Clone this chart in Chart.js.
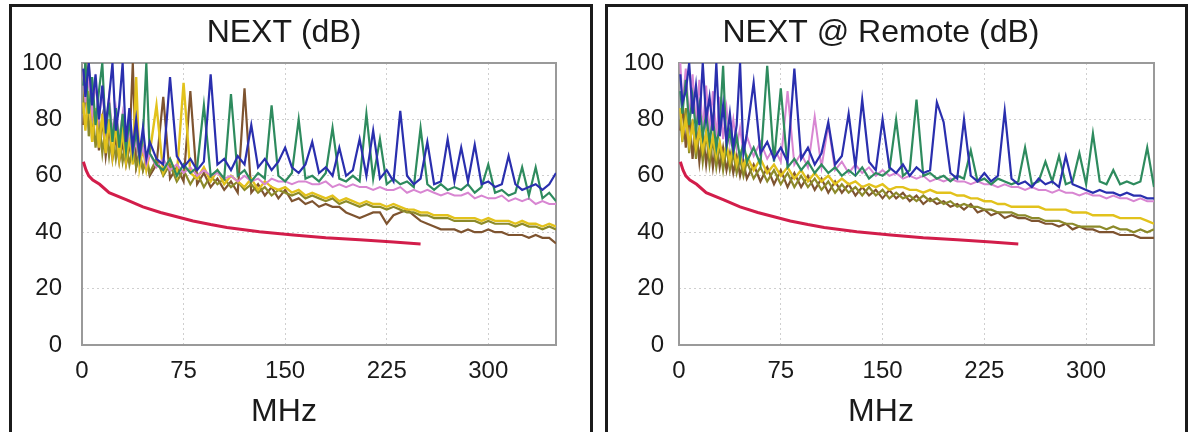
<!DOCTYPE html>
<html>
<head>
<meta charset="utf-8">
<script src="https://cdn.jsdelivr.net/npm/chart.js@4.4.1/dist/chart.umd.min.js"></script>
<style>
  html, body { margin: 0; padding: 0; background: #fff; }
  body { width: 1193px; height: 432px; overflow: hidden; position: relative; }
  .panel { position: absolute; top: 4px; height: 440px; border: 3px solid #1b1b1b; }
  .panel canvas { position: absolute; left: 0; top: 0; }
  #left-panel { left: 9px; width: 578px; }
  #right-panel { left: 605px; width: 577px; }
</style>
</head>
<body>
<div class="panel" id="left-panel"><canvas id="nextChart" width="578" height="425"></canvas></div>
<div class="panel" id="right-panel"><canvas id="remoteChart" width="577" height="425"></canvas></div>
<script>
// frequency points (MHz) shared by the pair traces
const freqs = [1, 2.5, 5, 7.5, 10, 12.5, 15, 17.5, 20, 22.5, 25, 27.5, 30, 32.5, 35, 37.5, 40, 42.5, 45, 47.5, 50,
  55, 60, 65, 70, 75, 80, 85, 90, 95, 100, 105, 110, 115, 120, 125, 130, 135, 140, 145, 150,
  155, 160, 165, 170, 175, 180, 185, 190, 195, 200, 205, 210, 215, 220, 225, 230, 235, 240, 245, 250,
  255, 260, 265, 270, 275, 280, 285, 290, 295, 300, 305, 310, 315, 320, 325, 330, 335, 340, 345, 350];

const xTickValues = [0, 75, 150, 225, 300];
const yTickValues = [0, 20, 40, 60, 80, 100];

// limit line (same on both sides)
const limitFreqs = [1, 3, 5, 8, 13, 20, 33, 45, 58, 70, 82, 95, 107, 131, 156, 180, 205, 230, 250];
const limitDb = [65, 62, 60, 58.5, 57, 54, 51.5, 49, 47, 45.5, 44, 42.7, 41.7, 40.2, 39, 38, 37.3, 36.5, 35.8];

// NEXT (dB)
const nextBlue = [98, 88, 100, 85, 96, 80, 92, 78, 88, 100, 76, 85, 100, 72, 84, 70, 80, 68, 77, 66, 72,
  66, 64, 95, 67, 63, 66, 62, 65, 96, 64,
  66, 62, 67, 64, 78, 63, 66, 62, 65, 70,
  63, 61, 64, 72, 61, 63, 60, 70, 60, 62,
  73, 60, 76, 59, 62, 58, 83, 60, 57, 59,
  72, 57, 58, 73, 58, 70, 58, 71, 57, 58,
  56, 57, 67, 57, 55, 56, 57, 55, 57, 61];
const nextGreen = [92, 100, 82, 95, 78, 90, 100, 75, 86, 72, 84, 70, 82, 69, 80, 68, 76, 66, 74, 100, 68,
  64, 62, 66, 60, 64, 61, 63, 85, 60, 62,
  59, 89, 60, 62, 58, 61, 59, 85, 60, 58,
  61, 80, 59, 60, 58, 61, 77, 59, 58, 60,
  58, 82, 59, 73, 57, 59, 57, 58, 56, 77,
  57, 55, 57, 55, 56, 55, 57, 54, 56, 64,
  54, 55, 53, 54, 63, 53, 63, 52, 54, 51];
const nextPink = [97, 86, 95, 82, 93, 80, 90, 77, 88, 75, 84, 73, 82, 70, 76, 68, 72, 66, 70, 64, 68,
  63, 66, 62, 64, 61, 63, 60, 62, 60, 61,
  59, 60, 58, 60, 58, 59, 57, 59, 58, 58,
  57, 58, 58, 57, 57, 58, 56, 57, 56, 57,
  56, 56, 55, 56, 55, 55, 56, 54, 55, 54,
  55, 54, 53, 54, 53, 53, 54, 52, 53, 52,
  52, 53, 51, 52, 51, 52, 50, 51, 50, 50];
const nextYellow = [86, 76, 90, 72, 84, 70, 82, 68, 80, 67, 78, 66, 76, 65, 74, 64, 95, 63, 70, 62, 68,
  85, 61, 66, 60, 93, 61, 59, 63, 58, 62,
  57, 60, 58, 56, 59, 55, 58, 56, 55, 56,
  54, 55, 53, 54, 53, 52, 53, 51, 52, 51,
  50, 51, 50, 50, 49, 50, 49, 48, 48, 47,
  47, 46, 46, 46, 45, 45, 45, 45, 44, 45,
  44, 44, 44, 43, 44, 43, 43, 42, 43, 42];
const nextOlive = [82, 100, 74, 86, 70, 80, 68, 78, 67, 76, 66, 74, 65, 72, 64, 70, 63, 69, 62, 67, 61,
  66, 60, 64, 58, 62, 57, 61, 56, 60, 57,
  59, 56, 58, 55, 57, 54, 56, 53, 55, 54,
  53, 54, 52, 53, 52, 51, 52, 50, 51, 50,
  49, 50, 49, 49, 48, 49, 48, 47, 47, 46,
  46, 45, 45, 45, 44, 44, 44, 44, 43, 44,
  43, 43, 43, 42, 43, 42, 42, 41, 42, 41];
const nextBrown = [78, 90, 100, 72, 84, 69, 80, 67, 77, 66, 74, 65, 72, 64, 70, 100, 63, 68, 62, 66, 60,
  64, 88, 59, 63, 58, 90, 57, 61, 56, 59,
  55, 58, 54, 91, 54, 57, 53, 56, 52, 55,
  51, 52, 50, 51, 49, 50, 49, 49, 47, 46,
  45, 46, 47, 47, 43, 46, 47, 48, 46, 44,
  43, 42, 41, 41, 41, 40, 41, 40, 40, 41,
  40, 40, 39, 39, 39, 38, 39, 38, 38, 36];

// NEXT @ Remote (dB)
const remoteBlue = [96, 86, 90, 100, 82, 92, 78, 100, 80, 88, 76, 100, 74, 85, 72, 82, 70, 78, 100, 68, 75,
  93, 68, 72, 66, 70, 65, 98, 66, 70, 64,
  68, 79, 64, 67, 82, 63, 87, 65, 62, 80,
  63, 61, 64, 60, 63, 61, 62, 86, 79, 61,
  59, 80, 60, 58, 61, 58, 60, 83, 59, 57,
  58, 56, 59, 57, 58, 56, 67, 57, 56, 55,
  54, 55, 54, 54, 53, 54, 53, 53, 52, 52];
const remoteGreen = [90, 82, 94, 78, 88, 76, 85, 74, 82, 72, 80, 70, 78, 99, 70, 76, 68, 74, 66, 72, 65,
  70, 64, 99, 65, 91, 63, 66, 62, 65, 61,
  64, 61, 63, 60, 62, 60, 63, 59, 61, 60,
  62, 80, 60, 62, 87, 60, 61, 59, 60, 58,
  60, 59, 69, 58, 59, 57, 59, 58, 57, 58,
  70, 57, 58, 65, 58, 67, 57, 58, 68, 57,
  75, 58, 57, 62, 57, 58, 57, 58, 70, 56];
const remotePink = [100, 85, 98, 80, 96, 78, 94, 76, 92, 75, 90, 74, 88, 73, 84, 72, 80, 70, 77, 68, 74,
  67, 72, 66, 70, 65, 90, 64, 68, 63, 81,
  63, 78, 62, 65, 61, 64, 61, 63, 60, 62,
  60, 61, 59, 60, 59, 60, 58, 59, 58, 59,
  58, 58, 57, 58, 57, 57, 56, 57, 56, 56,
  55, 56, 55, 55, 54, 55, 54, 54, 53, 54,
  53, 53, 52, 53, 52, 52, 51, 52, 51, 51];
const remoteYellow = [84, 74, 80, 71, 78, 70, 76, 69, 75, 68, 74, 67, 72, 66, 71, 65, 70, 64, 68, 63, 67,
  62, 66, 61, 64, 60, 63, 59, 62, 58, 61,
  58, 60, 57, 59, 57, 58, 56, 57, 56, 57,
  55, 56, 56, 55, 55, 54, 55, 54, 54, 54,
  53, 53, 52, 52, 51, 51, 50, 50, 49, 49,
  49, 49, 49, 48, 48, 48, 48, 47, 47, 47,
  46, 46, 46, 46, 45, 45, 45, 45, 44, 43];
const remoteOlive = [80, 72, 84, 68, 80, 66, 77, 65, 75, 64, 73, 63, 71, 62, 70, 62, 68, 61, 66, 60, 65,
  59, 63, 58, 62, 57, 61, 56, 60, 56, 59,
  55, 58, 54, 57, 54, 56, 53, 56, 53, 55,
  52, 54, 52, 53, 51, 53, 51, 52, 50, 51,
  49, 50, 49, 49, 48, 48, 47, 47, 47, 46,
  46, 45, 45, 44, 44, 44, 43, 43, 42, 42,
  42, 42, 41, 42, 41, 41, 40, 41, 40, 41];
const remoteBrown = [76, 86, 70, 82, 66, 78, 65, 76, 64, 74, 63, 72, 63, 70, 62, 68, 61, 67, 60, 65, 59,
  64, 58, 63, 57, 62, 56, 61, 56, 60, 55,
  59, 54, 58, 54, 57, 53, 56, 53, 55, 52,
  55, 52, 54, 51, 53, 50, 52, 50, 51, 49,
  50, 48, 50, 47, 48, 46, 47, 45, 46, 45,
  45, 44, 44, 43, 43, 42, 43, 41, 42, 41,
  41, 40, 40, 40, 39, 39, 39, 38, 38, 38];

const FONT = '"Liberation Sans", Arial, sans-serif';

const pts = (xs, ys) => xs.map((x, i) => ({ x: x, y: ys[i] }));

const line = (data, color, width) => ({
  data: data,
  borderColor: color,
  borderWidth: width,
  pointRadius: 0,
  tension: 0,
  fill: false
});

// grey box round the plot area
const plotFrame = {
  id: 'plotFrame',
  beforeDatasetsDraw(chart) {
    const { ctx, chartArea: a } = chart;
    ctx.save();
    ctx.strokeStyle = '#9a9a9a';
    ctx.lineWidth = 2;
    ctx.strokeRect(a.left, a.top, a.right - a.left, a.bottom - a.top);
    ctx.restore();
  }
};

function makeChart(id, title, series, yWidth, yPad, rightPad) {
  const ctx = document.getElementById(id).getContext('2d');
  return new Chart(ctx, {
    type: 'line',
    data: {
      datasets: [
        line(pts(limitFreqs, limitDb), '#d21d4a', 3),
        line(pts(freqs, series.blue), '#2a2fae', 2.2),
        line(pts(freqs, series.green), '#2e8b5e', 2.2),
        line(pts(freqs, series.pink), '#d886d2', 2),
        line(pts(freqs, series.yellow), '#e2c21c', 2.4),
        line(pts(freqs, series.olive), '#8c8a2a', 2.2),
        line(pts(freqs, series.brown), '#7e5430', 2.2)
      ]
    },
    options: {
      responsive: false,
      animation: false,
      layout: { padding: { left: 0, right: rightPad, top: 0, bottom: 0 } },
      plugins: {
        legend: { display: false },
        tooltip: { enabled: false },
        title: {
          display: true,
          text: title,
          color: '#1a1a1a',
          font: { family: FONT, size: 32, weight: 'normal' },
          padding: { top: 7, bottom: 10.6 }
        },
        subtitle: {
          display: true,
          text: 'MHz',
          position: 'bottom',
          color: '#1a1a1a',
          font: { family: FONT, size: 32, weight: 'normal' },
          padding: { top: 0, bottom: 1 }
        }
      },
      scales: {
        x: {
          type: 'linear',
          min: 0,
          max: 350,
          afterBuildTicks: s => { s.ticks = xTickValues.map(v => ({ value: v })); },
          afterFit: s => { s.height = 47.6; },
          ticks: {
            color: '#1a1a1a',
            padding: 12,
            maxRotation: 0,
            font: { family: FONT, size: 24 }
          },
          grid: { color: '#cfcfcf', lineWidth: 1, drawTicks: false },
          border: { display: false, dash: [2, 3] }
        },
        y: {
          min: 0,
          max: 100,
          afterBuildTicks: s => { s.ticks = yTickValues.map(v => ({ value: v })); },
          afterFit: s => { s.width = yWidth; },
          ticks: {
            color: '#1a1a1a',
            padding: yPad,
            font: { family: FONT, size: 24 }
          },
          grid: { color: '#cfcfcf', lineWidth: 1, drawTicks: false },
          border: { display: false, dash: [2, 3] }
        }
      }
    },
    plugins: [plotFrame]
  });
}

makeChart('nextChart', 'NEXT (dB)', {
  blue: nextBlue, green: nextGreen, pink: nextPink,
  yellow: nextYellow, olive: nextOlive, brown: nextBrown
}, 70, 20, 34);

makeChart('remoteChart', 'NEXT @ Remote (dB)', {
  blue: remoteBlue, green: remoteGreen, pink: remotePink,
  yellow: remoteYellow, olive: remoteOlive, brown: remoteBrown
}, 71, 15, 31);
</script>
</body>
</html>
